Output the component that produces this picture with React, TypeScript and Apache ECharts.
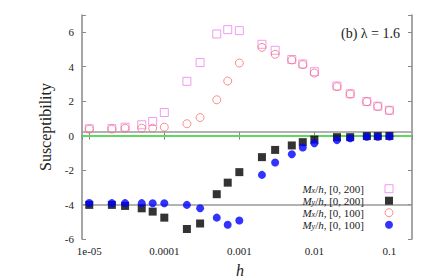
import React, { useEffect, useRef } from 'react';
import * as echarts from 'echarts';

const hValues = [1e-5, 2e-5, 3e-5, 5e-5, 7e-5, 1e-4, 2e-4, 3e-4, 5e-4, 7e-4, 1e-3, 2e-3, 3e-3, 5e-3, 7e-3, 0.01, 0.02, 0.03, 0.05, 0.07, 0.1];
const mx200 = [0.40, 0.41, 0.49, 0.63, 0.82, 1.34, 3.15, 4.24, 5.9, 6.15, 6.09, 5.3, 4.95, 4.42, 4.16, 3.71, 2.88, 2.43, 1.98, 1.71, 1.47];
const my200 = [-4.02, -4.02, -4.08, -4.22, -4.41, -4.76, -5.42, -5.10, -3.40, -2.73, -2.12, -1.25, -0.83, -0.57, -0.38, -0.23, -0.09, -0.09, -0.03, -0.03, -0.02];
const mx100 = [0.38, 0.38, 0.43, 0.43, 0.43, 0.49, 0.69, 1.05, 2.08, 3.17, 4.21, 5.12, 4.72, 4.39, 4.12, 3.63, 2.84, 2.41, 1.97, 1.69, 1.46];
const my100 = [-3.91, -3.92, -3.92, -3.92, -3.93, -3.93, -4.02, -4.22, -4.76, -5.17, -4.93, -2.28, -1.56, -1.08, -0.69, -0.44, -0.26, -0.15, -0.07, -0.07, -0.05];

const xTickValues = [1e-5, 1e-4, 1e-3, 1e-2, 1e-1];
const xTickLabels = ['1e-05', '0.0001', '0.001', '0.01', '0.1'];
const yTickValues = [-6, -4, -2, 0, 2, 4, 6];

const grayLines = [0.2, -4];
const greenLine = 0;
const vLine = 0.001;

const seriesNames = ['Mx200', 'My200', 'Mx100', 'My100'];
const legendLabels: Record<string, string> = {
  Mx200: '{m|M}{s|x}{r|/}{m|h}{n|, [0, 200]}',
  My200: '{m|M}{s|y}{r|/}{m|h}{n|, [0, 200]}',
  Mx100: '{m|M}{s|x}{r|/}{m|h}{n|, [0, 100]}',
  My100: '{m|M}{s|y}{r|/}{m|h}{n|, [0, 100]}',
};

const FONT = 'Liberation Serif';
const AXIS_COLOR = '#888';
const TEXT_COLOR = '#222';

const pts = (ys: number[]) => hValues.map((h, i) => [h, ys[i]]);

export default function App() {
  const ref = useRef<HTMLDivElement>(null);
  useEffect(() => {
    if (!ref.current) return;
    const chart = echarts.init(ref.current, undefined, { renderer: 'svg' });
    const xLabel = (v: number) => {
      const k = xTickValues.findIndex((t) => Math.abs(Math.log10(t) - Math.log10(v)) < 1e-6);
      return k >= 0 ? xTickLabels[k] : '';
    };
    const yLabel = (v: number) => (yTickValues.includes(v) ? String(v) : '');
    const axisLine = { show: true, lineStyle: { color: AXIS_COLOR, width: 1.5 } };
    const axisTick = { show: true, inside: true, length: 4, lineStyle: { color: AXIS_COLOR, width: 1 } };
    const option: any = {
      animation: false,
      backgroundColor: '#fff',
      grid: { left: 82, top: 15, right: 24, bottom: 41, containLabel: false },
      xAxis: [
        {
          type: 'log', logBase: 10, min: 8e-6, max: 0.2,
          axisLine, axisTick, splitLine: { show: false },
          axisLabel: { formatter: xLabel, fontFamily: FONT, fontSize: 11, color: TEXT_COLOR, margin: 6, showMinLabel: false, showMaxLabel: false },
        },
        {
          type: 'log', logBase: 10, min: 8e-6, max: 0.2, position: 'top',
          axisLine, axisTick, splitLine: { show: false }, axisLabel: { show: false },
        },
      ],
      yAxis: [
        {
          type: 'value', min: -6, max: 7, interval: 2,
          axisLine, axisTick, splitLine: { show: false },
          axisLabel: { formatter: yLabel, fontFamily: FONT, fontSize: 11, color: TEXT_COLOR, margin: 8 },
          name: 'Susceptibility', nameLocation: 'middle', nameGap: 29,
          nameTextStyle: { fontFamily: FONT, fontSize: 16, color: TEXT_COLOR },
        },
        {
          type: 'value', min: -6, max: 7, interval: 2, position: 'right',
          axisLine, axisTick, splitLine: { show: false }, axisLabel: { show: false },
        },
      ],
      legend: {
        orient: 'vertical', align: 'right', right: 42.5, top: 182.7, padding: 0,
        itemWidth: 8, itemHeight: 8, itemGap: 0, selectedMode: false,
        formatter: (name: string) => legendLabels[name],
        textStyle: {
          fontFamily: FONT, fontSize: 11, color: TEXT_COLOR, lineHeight: 12,
          rich: {
            m: { fontFamily: FONT, fontStyle: 'italic', fontSize: 11, lineHeight: 12, color: TEXT_COLOR },
            r: { fontFamily: FONT, fontSize: 11, lineHeight: 12, color: TEXT_COLOR },
            s: { fontFamily: FONT, fontStyle: 'italic', fontSize: 8, lineHeight: 8, verticalAlign: 'bottom', color: TEXT_COLOR },
            n: { fontFamily: FONT, fontSize: 11, lineHeight: 12, color: TEXT_COLOR, padding: [0, 16, 0, 0] },
          },
        },
        data: [
          { name: 'Mx200', icon: 'rect', itemStyle: { color: 'transparent', borderColor: '#ee82ee', borderWidth: 1 } },
          { name: 'My200', icon: 'rect', itemStyle: { color: '#000' } },
          { name: 'Mx100', icon: 'circle', itemStyle: { color: 'transparent', borderColor: '#f87272', borderWidth: 1 } },
          { name: 'My100', icon: 'circle', itemStyle: { color: '#0000ff' } },
        ],
      },
      graphic: [
        {
          type: 'text', x: 400, y: 33,
          style: { text: '(b) λ = 1.6', font: `14px "${FONT}"`, fill: TEXT_COLOR, align: 'right', verticalAlign: 'middle' },
        },
        {
          type: 'text', x: 240, y: 270,
          style: { text: 'h', font: `italic 16px "${FONT}"`, fill: TEXT_COLOR, align: 'center', verticalAlign: 'middle' },
        },
      ],
      series: [
        {
          name: seriesNames[0], type: 'scatter', data: pts(mx200), symbol: 'rect', symbolSize: 8,
          itemStyle: { color: 'transparent', borderColor: '#ee82ee', borderWidth: 1 },
          markLine: {
            silent: true, symbol: 'none', label: { show: false }, z: 1,
            data: [
              ...grayLines.map((v) => ({ yAxis: v, lineStyle: { color: '#999', width: 1.5, type: 'solid' } })),
              { yAxis: greenLine, lineStyle: { color: '#4ef04e', width: 1.5, type: 'solid' } },
              { xAxis: vLine, lineStyle: { color: '#666', width: 1, type: 'solid' } },
            ],
          },
        },
        {
          name: seriesNames[1], type: 'scatter', data: pts(my200), symbol: 'rect', symbolSize: 8,
          itemStyle: { color: '#000' },
        },
        {
          name: seriesNames[2], type: 'scatter', data: pts(mx100), symbol: 'circle', symbolSize: 8,
          itemStyle: { color: 'transparent', borderColor: '#f87272', borderWidth: 1 },
        },
        {
          name: seriesNames[3], type: 'scatter', data: pts(my100), symbol: 'circle', symbolSize: 8,
          itemStyle: { color: '#0000ff' },
        },
      ],
    };
    chart.setOption(option);
    return () => chart.dispose();
  }, []);
  return <div ref={ref} style={{ position: 'fixed', left: 0, top: 0, width: 436, height: 280 }} />;
}
